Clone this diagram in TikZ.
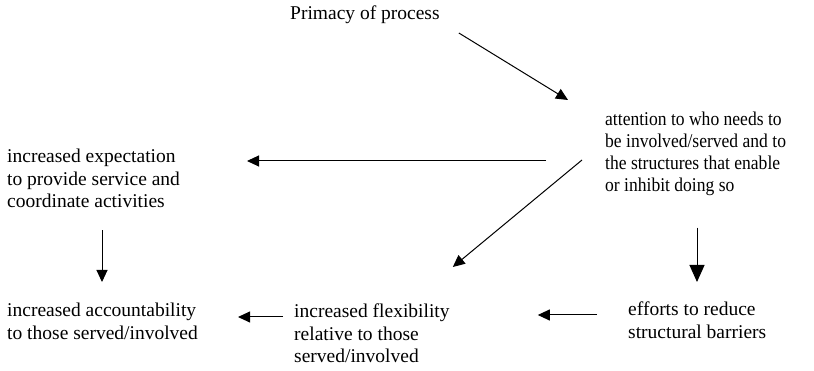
\documentclass[tikz,border=0pt]{standalone}
\usepackage{fontspec}
\setmainfont{Liberation Serif}
\newfontfamily\narrowserif[FakeStretch=0.9]{Liberation Serif}
\usetikzlibrary{arrows.meta}

\begin{document}
\begin{tikzpicture}[x=1pt,y=-1pt,
    txt/.style={anchor=north west, inner sep=0pt, align=left,
                font=\fontsize{19.5}{22.5}\selectfont},
    arr/.style={line width=1pt, -{Triangle[length=12pt,width=11pt]}},
    bigarr/.style={line width=1pt, -{Triangle[length=17pt,width=15pt]}}]
\useasboundingbox (0,0) rectangle (814,371);

\node[txt] (primacy)       at (290,6)   {Primacy of process};
\node[txt, font=\narrowserif\fontsize{19.5}{21.8}\selectfont] (attention) at (605,112) {attention to who needs to\\be involved/served and to\\the structures that enable\\or inhibit doing so};
\node[txt] (expectation)   at (7,149)   {increased expectation\\to provide service and\\coordinate activities};
\node[txt] (accountability) at (7,303)  {increased accountability\\to those served/involved};
\node[txt] (flexibility)   at (294,304) {increased flexibility\\relative to those\\served/involved};
\node[txt] (efforts)       at (628,302) {efforts to reduce\\structural barriers};

\draw[arr] ([shift={(19pt,-27pt)}]primacy.north east) -- ([shift={(-37pt,12pt)}]attention.north west);
\draw[arr] ([shift={(-59pt,-49pt)}]attention.north west) -- ([shift={(240pt,-12pt)}]expectation.north west);
\draw[arr] ([shift={(-23pt,-48pt)}]attention.north west) -- ([shift={(3pt,37pt)}]flexibility.north east);
\draw[arr] ([shift={(95pt,-22pt)}]expectation.south west) -- ([shift={(95pt,21pt)}]accountability.north west);
\draw[bigarr] ([shift={(92pt,-32pt)}]attention.south west) -- ([shift={(69pt,20pt)}]efforts.north west);
\draw[arr] ([shift={(-31pt,-13pt)}]efforts.north west) -- ([shift={(88pt,-11pt)}]flexibility.north east);
\draw[arr] ([shift={(-11pt,-13pt)}]flexibility.north west) -- ([shift={(40pt,-14pt)}]accountability.north east);
\end{tikzpicture}
\end{document}
